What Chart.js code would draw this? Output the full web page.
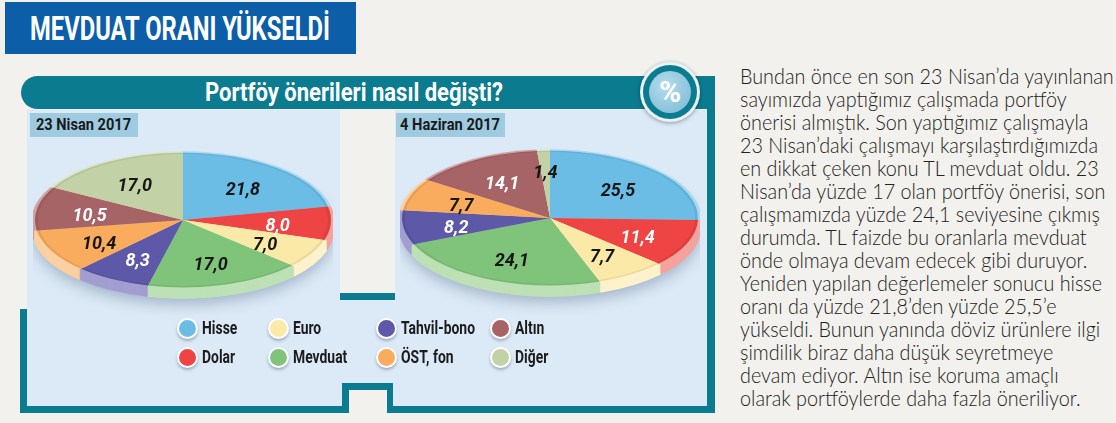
<!DOCTYPE html>
<html>
<head>
<meta charset="utf-8">
<script src="https://cdn.jsdelivr.net/npm/chart.js@4.4.1/dist/chart.umd.min.js"></script>
<style>
html, body { margin: 0; padding: 0; }
body { width: 1116px; height: 423px; background: #f2f1ed; position: relative; overflow: hidden; font-family: Roboto, sans-serif; }
.abs { position: absolute; }
.fit { position: absolute; white-space: nowrap; transform-origin: 0 50%; }
#titleBox { left: 5px; top: 2px; width: 351px; height: 52px; background: #0b5ea7; }
#title { left: 30px; top: 2px; height: 52px; line-height: 52px; font-size: 34px; font-weight: 700; color: #fff; }
#bar { left: 21px; top: 76px; width: 694px; height: 33px; background: #0b7b8f; border-radius: 17px 0 0 17px; }
#subtitle { left: 205px; top: 76px; height: 33px; line-height: 33px; font-size: 26px; font-weight: 700; color: #fff; }
.blue { background: #dce9f6; }
.teal { background: #0b7b8f; }
.beige { background: #f2f1ed; }
.dateBox { background: #9ecbe0; height: 24px; top: 113px; }
.dateText { top: 113px; height: 24px; line-height: 24px; font-size: 16px; font-weight: 700; color: #1a1a1a; }
#pct { left: 640px; top: 62px; width: 60px; height: 60px; border-radius: 50%; background: #e9f1f4; box-shadow: 0 1px 4px rgba(0,0,0,.35); }
#pctRing { left: 643px; top: 65px; width: 54px; height: 54px; border-radius: 50%; background: #0b7b8f; }
#pctDisk { left: 649px; top: 71px; width: 42px; height: 42px; border-radius: 50%; background: radial-gradient(circle at 40% 35%, #b4dcec, #78b8d4); color: #fff; font-weight: 700; font-size: 30px; line-height: 42px; text-align: center; }
.dot { width: 17px; height: 17px; border-radius: 50%; border: 2px solid #fff; box-shadow: 0 2px 3px rgba(40,60,90,.35); }
.legText { height: 20px; line-height: 20px; font-size: 19px; font-weight: 700; color: #1c1c1c; }
#article { left: 740px; top: 64px; transform-origin: 0 0; font-family: Lato, sans-serif; font-weight: 300; font-size: 21px; line-height: 23px; color: #222120; white-space: nowrap; }
canvas { position: absolute; }
</style>
</head>
<body>
<div class="abs" id="titleBox"></div>
<div class="fit" id="title">MEVDUAT ORANI YÜKSELDİ</div>

<div class="abs blue" style="left:27px;top:110px;width:313px;height:190px;"></div>
<div class="abs blue" style="left:395px;top:110px;width:312px;height:190px;"></div>
<div class="abs blue" style="left:27px;top:300px;width:680px;height:106px;"></div>
<div class="abs teal" style="left:340px;top:293px;width:55px;height:7px;"></div>
<div class="abs teal" style="left:707px;top:76px;width:8px;height:337px;"></div>
<div class="abs teal" style="left:20px;top:406px;width:695px;height:7px;"></div>
<div class="abs teal" style="left:20px;top:309px;width:7px;height:104px;"></div>
<div class="abs teal" style="left:342px;top:383px;width:51px;height:30px;"></div>
<div class="abs beige" style="left:349px;top:390px;width:38px;height:23px;"></div>

<div class="abs" id="bar"></div>
<div class="fit" id="subtitle">Portföy önerileri nasıl değişti?</div>
<div class="abs" id="pct"></div>
<div class="abs" id="pctRing"></div>
<div class="abs" id="pctDisk">%</div>

<div class="abs dateBox" style="left:30px;width:108px;"></div>
<div class="abs dateBox" style="left:396px;width:109px;"></div>
<div class="fit dateText" id="date0"></div>
<div class="fit dateText" id="date1"></div>

<canvas id="pieNisan" width="300" height="300" style="left:33px;top:70px;"></canvas>
<canvas id="pieHaziran" width="300" height="300" style="left:400px;top:68px;"></canvas>

<div id="legend"></div>
<div class="abs" id="article"></div>

<script>
// data
const categories = ['Hisse', 'Dolar', 'Euro', 'Mevduat', 'Tahvil-bono', 'ÖST, fon', 'Altın', 'Diğer'];
const nisanValues = [21.8, 8.0, 7.0, 17.0, 8.3, 10.4, 10.5, 17.0];
const haziranValues = [25.5, 11.4, 7.7, 24.1, 8.2, 7.7, 14.1, 1.4];
const dateLabels = ['23 Nisan 2017', '4 Haziran 2017'];
const articleLines = [
  'Bundan önce en son 23 Nisan’da yayınlanan',
  'sayımızda yaptığımız çalışmada portföy',
  'önerisi almıştık. Son yaptığımız çalışmayla',
  '23 Nisan’daki çalışmayı karşılaştırdığımızda',
  'en dikkat çeken konu TL mevduat oldu. 23',
  'Nisan’da yüzde 17 olan portföy önerisi, son',
  'çalışmamızda yüzde 24,1 seviyesine çıkmış',
  'durumda. TL faizde bu oranlarla mevduat',
  'önde olmaya devam edecek gibi duruyor.',
  'Yeniden yapılan değerlemeler sonucu hisse',
  'oranı da yüzde 21,8’den yüzde 25,5’e',
  'yükseldi. Bunun yanında döviz ürünlere ilgi',
  'şimdilik biraz daha düşük seyretmeye',
  'devam ediyor. Altın ise koruma amaçlı',
  'olarak portföylerde daha fazla öneriliyor.'
];

// styles
const sliceColors = ['#6cbde6', '#ee4443', '#fbe9a8', '#80c47b', '#5d58a8', '#f9ab5e', '#a76467', '#c3d1a6'];
const rimColors = ['#a9d8ef', '#f4a39d', '#fdf2cc', '#bde0b5', '#a29ed1', '#fbcf9f', '#d0a2a4', '#dde6ca'];
const labelColors = ['#161616', '#ffffff', '#161616', '#161616', '#ffffff', '#161616', '#ffffff', '#161616'];
const tilt = 0.455;
const depth = 10;

function fitWidth(el, w) {
  const natural = el.getBoundingClientRect().width;
  const s = w / natural;
  el.style.transform = 'scaleX(' + s + ')';
  return s;
}

const tiltPlugin = {
  id: 'tilt',
  beforeDatasetsDraw(chart) {
    const ctx = chart.ctx;
    const arcs = chart.getDatasetMeta(0).data;
    const cx = arcs[0].x, cy = arcs[0].y, r = arcs[0].outerRadius;

    // soft shadow under the disc
    ctx.save();
    ctx.shadowColor = 'rgba(60,85,120,0.35)';
    ctx.shadowBlur = 14;
    ctx.shadowOffsetY = 6;
    ctx.translate(cx, cy + depth);
    ctx.scale(1, tilt);
    ctx.beginPath();
    ctx.arc(0, 0, r + 2, 0, Math.PI * 2);
    ctx.fillStyle = '#dce9f6';
    ctx.fill();
    ctx.restore();

    // side of the disc
    for (let d = depth; d >= 0; d--) {
      ctx.save();
      ctx.translate(cx, cy + d);
      ctx.scale(1, tilt);
      arcs.forEach((a, i) => {
        ctx.beginPath();
        ctx.moveTo(0, 0);
        ctx.arc(0, 0, r + 3, a.startAngle, a.endAngle);
        ctx.closePath();
        ctx.fillStyle = rimColors[i];
        ctx.fill();
      });
      ctx.restore();
    }

    // squash the top face
    ctx.save();
    ctx.translate(cx, cy);
    ctx.scale(1, tilt);
    ctx.translate(-cx, -cy);
  },
  afterDatasetsDraw(chart) {
    const ctx = chart.ctx;
    const arcs = chart.getDatasetMeta(0).data;
    const cx = arcs[0].x, cy = arcs[0].y, r = arcs[0].outerRadius;
    ctx.beginPath();
    ctx.arc(cx, cy, r - 1.5, 0, Math.PI * 2);
    ctx.lineWidth = 3;
    ctx.strokeStyle = 'rgba(0,0,0,0.07)';
    ctx.stroke();
    ctx.restore();

    const values = chart.data.datasets[0].data;
    ctx.save();
    ctx.font = 'italic 700 18px Roboto, sans-serif';
    ctx.textAlign = 'center';
    ctx.textBaseline = 'middle';
    arcs.forEach((a, i) => {
      const mid = (a.startAngle + a.endAngle) / 2;
      const f = values[i] < 3 ? 0.72 : 0.64;
      const x = cx + Math.cos(mid) * r * f;
      const y = cy + Math.sin(mid) * r * f * tilt + 4;
      ctx.fillStyle = labelColors[i];
      ctx.fillText(values[i].toFixed(1).replace('.', ','), x, y);
    });
    ctx.restore();
  }
};

function makePie(id, values) {
  return new Chart(document.getElementById(id), {
    type: 'pie',
    data: {
      labels: categories,
      datasets: [{ data: values, backgroundColor: sliceColors, borderWidth: 0, hoverOffset: 0 }]
    },
    options: {
      responsive: false,
      animation: false,
      events: [],
      layout: { padding: 2 },
      plugins: { legend: { display: false }, tooltip: { enabled: false } }
    },
    plugins: [tiltPlugin]
  });
}

makePie('pieNisan', nisanValues);
makePie('pieHaziran', haziranValues);

// headings
fitWidth(document.getElementById('title'), 300);
fitWidth(document.getElementById('subtitle'), 298);
const d0 = document.getElementById('date0');
const d1 = document.getElementById('date1');
d0.textContent = dateLabels[0];
d1.textContent = dateLabels[1];
d0.style.left = '36px';
d1.style.left = '400px';
fitWidth(d0, 95);
fitWidth(d1, 100);

// legend, two rows per column
const legend = document.getElementById('legend');
const colX = [187, 278, 386, 500];
const rowY = [328, 357];
const legTexts = [];
categories.forEach((name, i) => {
  const col = Math.floor(i / 2), row = i % 2;
  const dot = document.createElement('div');
  dot.className = 'abs dot';
  dot.style.background = sliceColors[i];
  dot.style.left = (colX[col] - 10) + 'px';
  dot.style.top = (rowY[row] - 10) + 'px';
  legend.appendChild(dot);
  const t = document.createElement('div');
  t.className = 'fit legText';
  t.textContent = name;
  t.style.left = (colX[col] + 15) + 'px';
  t.style.top = (rowY[row] - 10) + 'px';
  legend.appendChild(t);
  legTexts.push(t);
});
const legScale = 74 / legTexts[4].getBoundingClientRect().width;
legTexts.forEach(t => { t.style.transform = 'scaleX(' + legScale + ')'; });

// article column
const article = document.getElementById('article');
articleLines.forEach(line => {
  const div = document.createElement('div');
  div.textContent = line;
  div.style.display = 'table';
  article.appendChild(div);
});
const widest = article.children[3].getBoundingClientRect().width;
article.style.transform = 'scaleX(' + (358 / widest) + ')';
</script>
</body>
</html>
